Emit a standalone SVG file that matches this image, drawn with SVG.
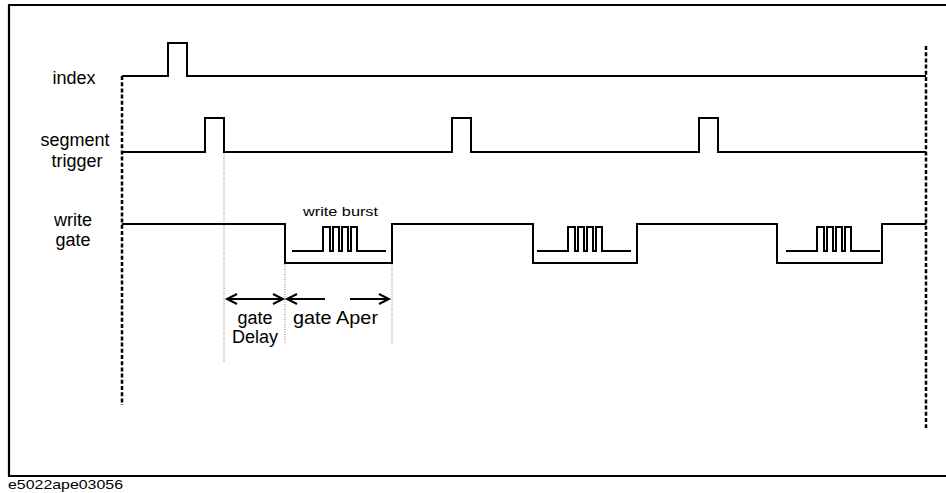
<svg xmlns="http://www.w3.org/2000/svg" width="946" height="493" viewBox="0 0 946 493">
<style>
  .wave{fill:none;stroke:#000;stroke-width:2;stroke-linejoin:miter}
  .frame{fill:none;stroke:#000;stroke-width:2.2}
  .bound{stroke:#000;stroke-width:2.5;stroke-dasharray:4 2.2}
  .guide{stroke:#777;stroke-width:1;stroke-dasharray:1 1.5}
  .arrow{fill:none;stroke:#000;stroke-width:2}
  .lbl{font-family:"Liberation Sans",Arial,sans-serif;font-size:18px;fill:#000}
  .mid{text-anchor:middle}
  .small{font-family:"Liberation Sans",Arial,sans-serif;font-size:13px;fill:#000}
</style>
<defs>
  <marker id="head" markerUnits="userSpaceOnUse" markerWidth="14" markerHeight="14" refX="11" refY="6" orient="auto-start-reverse">
    <path d="M1,1 L11,6 L1,11" fill="none" stroke="#000" stroke-width="2"/>
  </marker>
  <path id="burst" class="wave" d="M0,0 h31 v-24 h7 v24 h3 v-24 h6 v24 h3 v-24 h6 v24 h3 v-24 h6 v24 h29"/>
</defs>
<rect width="946" height="493" fill="#fff"/>
<path id="frame" class="frame" d="M947,5 H9 V476 H947"/>

<g id="bounds">
  <line class="bound" x1="122" y1="76" x2="122" y2="405"/>
  <line class="bound" x1="926" y1="46" x2="926" y2="428"/>
</g>

<g id="guides">
  <line class="guide" x1="224" y1="153" x2="224" y2="363"/>
  <line class="guide" x1="285" y1="264" x2="285" y2="343"/>
  <line class="guide" x1="392" y1="264" x2="392" y2="343"/>
</g>

<g id="index">
  <path class="wave" d="M122,76 H168 V43 H187 V76 H926"/>
  <text class="lbl mid" x="74" y="84">index</text>
</g>

<g id="segment-trigger">
  <path class="wave" d="M122,152 H205 V118 H224 V152 H452 V118 H471 V152 H699 V118 H718 V152 H926"/>
  <text class="lbl mid" x="75" y="146">segment</text>
  <text class="lbl mid" x="77" y="167">trigger</text>
</g>

<g id="write-gate">
  <path class="wave" d="M122,224 H285 V263 H392 V224 H533 V263 H637 V224 H777 V263 H882 V224 H926"/>
  <use href="#burst" x="292" y="251"/>
  <use href="#burst" x="537" y="251"/>
  <use href="#burst" x="786" y="251"/>
  <text class="lbl mid" x="73" y="226">write</text>
  <text class="lbl mid" x="73" y="246">gate</text>
  <text class="small" x="303" y="216" textLength="75" lengthAdjust="spacingAndGlyphs">write burst</text>
</g>

<g id="connectors">
  <line class="arrow" x1="227" y1="299" x2="283" y2="299" marker-start="url(#head)" marker-end="url(#head)"/>
  <line class="arrow" x1="325" y1="299" x2="287" y2="299" marker-end="url(#head)"/>
  <line class="arrow" x1="350" y1="299" x2="389" y2="299" marker-end="url(#head)"/>
</g>

<g id="gate-delay">
  <text class="lbl mid" x="255" y="324">gate</text>
  <text class="lbl mid" x="255" y="343">Delay</text>
</g>
<g id="gate-aper">
  <text class="lbl" x="293" y="324" textLength="85" lengthAdjust="spacingAndGlyphs">gate Aper</text>
</g>

<text class="small" x="8" y="489" textLength="115" lengthAdjust="spacingAndGlyphs">e5022ape03056</text>
</svg>
